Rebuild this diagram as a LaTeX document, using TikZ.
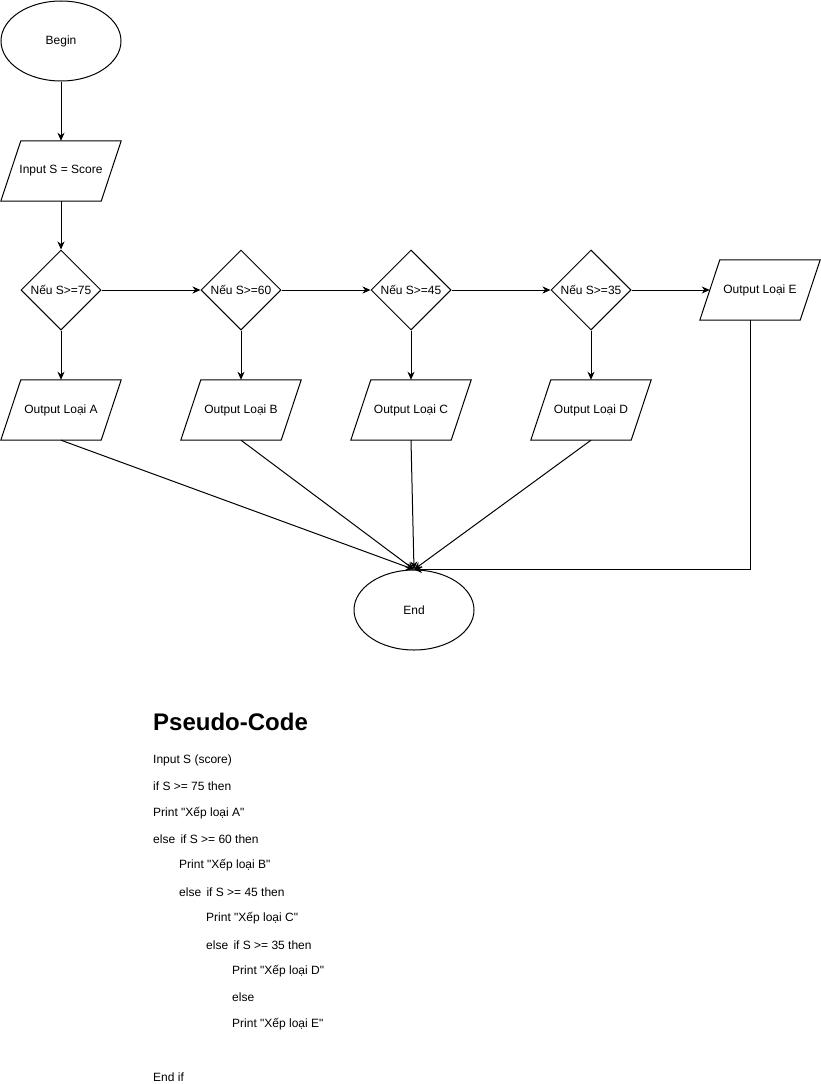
\documentclass[tikz,border=0pt]{standalone}
\usepackage{fontspec}
\setmainfont{Liberation Sans}
\usetikzlibrary{shapes.geometric,arrows.meta}
\newcommand\qq{\textquotedbl}
\begin{document}
\begin{tikzpicture}[x=1pt,y=-1pt,
  every node/.style={font=\fontsize{12}{14}\selectfont},
  term/.style={ellipse, draw, line width=1pt, minimum width=120pt, minimum height=80pt, inner sep=0pt},
  dec/.style={diamond, draw, line width=1pt, minimum width=80pt, minimum height=80pt, inner sep=0pt, aspect=1},
  io/.style={rectangle, minimum width=120pt, minimum height=60pt, inner sep=0pt},
  arr/.style={-{Stealth[length=8pt,width=7pt,inset=2.5pt]}, line width=1pt},
  code/.style={anchor=west, inner sep=0pt},
  title/.style={anchor=west, inner sep=0pt, font=\fontsize{24}{28}\selectfont\bfseries}]
\useasboundingbox (0,0) rectangle (821,1084);
\fill[white] (0,0) rectangle (821,1084);

\node[term] (begin) at (61,41) {Begin};
\node[io] (inp) at (61,171) {Input S = Score};
\node[dec] (d1) at (61,290) {Nếu S>=75};
\node[dec] (d2) at (241,290) {Nếu S>=60};
\node[dec] (d3) at (411,290) {Nếu S>=45};
\node[dec] (d4) at (591,290) {Nếu S>=35};
\node[io] (oE) at (760,290) {Output Loại E};
\node[io] (oA) at (61,410) {Output Loại A};
\node[io] (oB) at (241,410) {Output Loại B};
\node[io] (oC) at (411,410) {Output Loại C};
\node[io] (oD) at (591,410) {Output Loại D};
\node[term] (end) at (414,610) {End};

\foreach \n in {inp,oA,oB,oC,oD,oE}
  \draw[line width=1pt] ([xshift=20pt]\n.north west) -- (\n.north east) -- ([xshift=-20pt]\n.south east) -- (\n.south west) -- cycle;

\draw[arr] (begin.south) -- (inp.north);
\draw[arr] (inp.south) -- (d1.north);
\draw[arr] (d1.east) -- (d2.west);
\draw[arr] (d2.east) -- (d3.west);
\draw[arr] (d3.east) -- (d4.west);
\draw[arr] (d4.east) -- ([xshift=10pt]oE.west);
\draw[arr] (d1.south) -- (oA.north);
\draw[arr] (d2.south) -- (oB.north);
\draw[arr] (d3.south) -- (oC.north);
\draw[arr] (d4.south) -- (oD.north);
\draw[arr] (oA.south) -- (end.north);
\draw[arr] (oB.south) -- (end.north);
\draw[arr] (oC.south) -- (end.north);
\draw[arr] (oD.south) -- (end.north);
\coordinate (eo) at ([xshift=-10pt]oE.south);
\draw[arr] (eo) |- (end.north);

\node[title] (t) at (153,722) {Pseudo-Code};
\node[code] (c1) at (153,760) {Input S (score)};
\node[code] (c2) at (153,786) {if S >= 75 then};
\node[code] (c3) at (153,813) {Print \qq Xếp loại A\qq};
\node[code] (c4) at (153,839) {else\ \,if S >= 60 then};
\node[code] (c5) at (179,865) {Print \qq Xếp loại B\qq};
\node[code] (c6) at (179,892) {else\ \,if S >= 45 then};
\node[code] (c7) at (206,918) {Print \qq Xếp loại C\qq};
\node[code] (c8) at (206,945) {else\ \,if S >= 35 then};
\node[code] (c9) at (232,971) {Print \qq Xếp loại D\qq};
\node[code] (c10) at (232,997) {else};
\node[code] (c11) at (232,1024) {Print \qq Xếp loại E\qq};
\node[code] (c12) at (153,1077) {End if};
\end{tikzpicture}
\end{document}
